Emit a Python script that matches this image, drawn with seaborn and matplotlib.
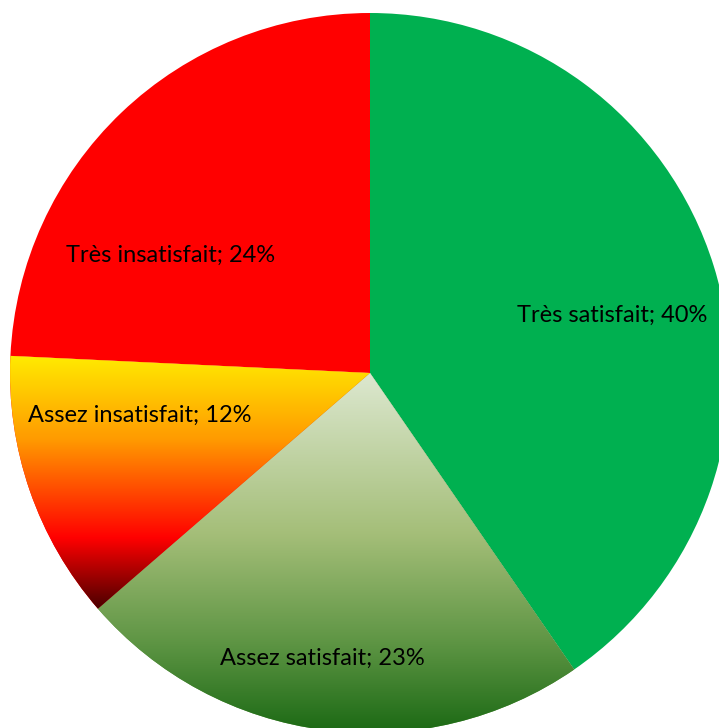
import numpy as np
import matplotlib
matplotlib.use("Agg")
import matplotlib.pyplot as plt
from matplotlib.colors import LinearSegmentedColormap
import seaborn as sns

# Data
categories = ["Très satisfait", "Assez satisfait", "Assez insatisfait", "Très insatisfait"]
percents = [40, 23, 12, 24]

# Fill styles: solid colour or vertical gradient stops (top -> bottom)
solid_colors = ["#00B050", None, None, "#FF0000"]
gradients = [
    None,
    [(0.0, "#DDE8D0"), (0.45, "#A4BE78"), (0.75, "#5E9544"), (1.0, "#1B6914")],
    [(0.0, "#FFEA00"), (0.33, "#FF9A00"), (0.72, "#FF0000"), (1.0, "#4A0000")],
    None,
]
# label anchor positions (in units of pie radius)
label_xy = [(0.672, 0.161), (-0.131, -0.792), (-0.639, -0.119), (-0.553, 0.328)]

sns.set_style("white")
plt.rcParams["font.family"] = ["Lato", "DejaVu Sans"]

W, H = 719, 728
cx, cy, R = 370, 373, 360

fig = plt.figure(figsize=(W / 100, H / 100), dpi=100)
ax = fig.add_axes([0, 0, 1, 1])

fill = [c if c is not None else g[len(g) // 2][1] for c, g in zip(solid_colors, gradients)]
wedges, _ = ax.pie(percents, colors=fill, startangle=90, counterclock=False,
                   radius=1, wedgeprops=dict(linewidth=0))

for w, g in zip(wedges, gradients):
    if g is None:
        continue
    bb = w.get_path().get_extents()
    cmap = LinearSegmentedColormap.from_list("grad", g)
    grad = np.linspace(0, 1, 256).reshape(-1, 1)
    im = ax.imshow(grad, cmap=cmap, aspect="auto", origin="upper",
                   extent=(bb.x0, bb.x1, bb.y0, bb.y1), interpolation="bilinear",
                   zorder=w.get_zorder() + 0.1)
    im.set_clip_path(w)

for name, p, (x, y) in zip(categories, percents, label_xy):
    ax.text(x, y, f"{name}; {p}%", ha="center", va="center", fontsize=17,
            color="black", zorder=5)

ax.set_xlim(-cx / R, (W - cx) / R)
ax.set_ylim(-(H - cy) / R, cy / R)
ax.set_aspect("equal")
ax.axis("off")

fig.savefig("out.png", dpi=100)
